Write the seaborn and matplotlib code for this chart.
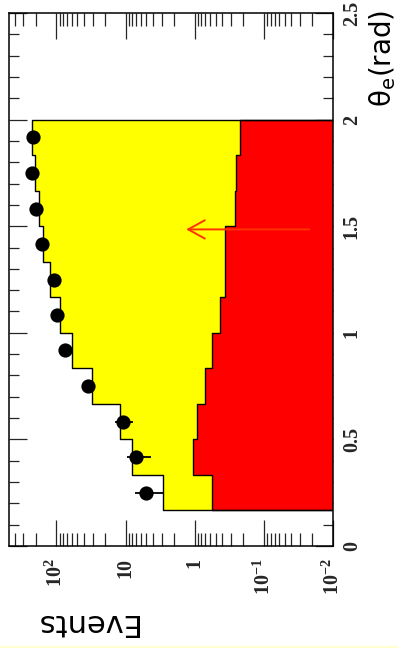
import numpy as np
import matplotlib
matplotlib.use('Agg')
import matplotlib.pyplot as plt
import seaborn as sns
from matplotlib.patches import Rectangle
from matplotlib.ticker import FixedLocator, FixedFormatter, MultipleLocator, NullFormatter

# theta_e bins (rad) and histogram contents
theta_edges = [0.167, 0.333, 0.5, 0.667, 0.833, 1.0, 1.167, 1.333, 1.5, 1.667, 1.833, 2.0]
theta_centers = [0.25, 0.417, 0.583, 0.75, 0.917, 1.083, 1.25, 1.417, 1.583, 1.75, 1.917]
total_mc = [2.9, 8.1, 11.9, 30.3, 59.0, 89.0, 124.0, 154.0, 181.0, 203.0, 227.0]
background = [0.57, 1.05, 0.93, 0.71, 0.57, 0.43, 0.37, 0.37, 0.26, 0.25, 0.224]
data_events = [5, 7, 11, 35, 75, 97, 110, 163, 199, 227, 221]

cut_theta = 1.485
arrow_start = 0.022
arrow_end = 1.33

event_ticks = [100, 10, 1, 0.1, 0.01]
event_labels = [r'$\mathregular{10^{2}}$', '10', '1',
                r'$\mathregular{10^{-1}}$', r'$\mathregular{10^{-2}}$']
theta_ticks = [0, 0.5, 1, 1.5, 2, 2.5]
theta_labels = ['0', '0.5', '1', '1.5', '2', '2.5']

sns.set_style('ticks')
plt.rcParams['font.family'] = ['DejaVu Sans']

W, H = 398, 648
fig = plt.figure(figsize=(W / 100, H / 100), dpi=100)
fig.patches.append(Rectangle((0, 0), 1, 2 / H, transform=fig.transFigure,
                             color='#ffffd0', zorder=0))

ax = fig.add_axes([9.3 / W, 1 - 546 / H, (333 - 9.3) / W, (546 - 13) / H])
ax.set_xscale('log')
xmin, xmax = 0.01, 480
ax.set_xlim(xmax, xmin)
ax.set_ylim(0, 2.5)

edges = np.array(theta_edges)
ys = np.column_stack([edges[:-1], edges[1:]]).ravel()


def draw_hist(vals, color):
    xs = np.repeat(vals, 2)
    ax.fill_betweenx(ys, xmin, xs, color=color, lw=0, zorder=2)
    ax.plot(np.r_[xmin, xs, xmin], np.r_[edges[0], ys, edges[-1]],
            color='black', lw=1, zorder=3)


draw_hist(total_mc, '#ffff00')
draw_hist(background, '#ff0000')

ax.errorbar(data_events, theta_centers, xerr=np.sqrt(data_events), fmt='none',
            ecolor='black', elinewidth=1.3, zorder=4)
sns.scatterplot(x=data_events, y=theta_centers, color='black', s=105,
                edgecolor='black', linewidth=0, zorder=5, ax=ax)

ax.annotate('', xy=(arrow_end, cut_theta), xytext=(arrow_start, cut_theta),
            arrowprops=dict(arrowstyle='->,head_length=1.0,head_width=0.55',
                            color='#ff3300', lw=1.4, mutation_scale=12,
                            shrinkA=0, shrinkB=0), zorder=6)

# axes styling, ROOT-like
for sp in ax.spines.values():
    sp.set_linewidth(1.1)
    sp.set_color('black')
    sp.set_zorder(7)

ax.xaxis.set_major_locator(FixedLocator(event_ticks))
ax.xaxis.set_major_formatter(FixedFormatter(event_labels))
minor = [m * 10.0 ** e for e in range(-2, 3) for m in range(2, 10)]
ax.xaxis.set_minor_locator(FixedLocator(minor))
ax.xaxis.set_minor_formatter(NullFormatter())
ax.tick_params(axis='x', which='major', direction='in', length=18.5, width=0.9,
               top=True, bottom=True, pad=8.6, labelsize=14.5, labelrotation=90)
ax.tick_params(axis='x', which='minor', direction='in', length=9.4, width=0.9,
               top=True, bottom=True)

ax.yaxis.set_major_locator(FixedLocator(theta_ticks))
ax.yaxis.set_major_formatter(FixedFormatter(theta_labels))
ax.yaxis.set_minor_locator(MultipleLocator(0.1))
ax.tick_params(axis='y', which='major', direction='in', length=13, width=0.9,
               left=True, right=True, labelleft=False, labelright=True,
               pad=6.3, labelsize=14.5, labelrotation=90)
ax.tick_params(axis='y', which='minor', direction='in', length=7, width=0.9,
               left=True, right=True)

for lab in ax.get_xticklabels() + ax.get_yticklabels():
    lab.set_fontfamily('Liberation Serif')
    lab.set_fontweight('bold')
for lab in ax.get_yticklabels():
    lab.set_verticalalignment('center')

ax.set_xlabel('')
ax.set_ylabel('')

fig.text(85 / W, 1 - 622 / H, 'Events', rotation=180, ha='center', va='center',
         fontsize=22, color='black')
fig.text(383 / W, 1 - 58 / H, r'θ$_\mathregular{e}$(rad)', rotation=90,
         ha='center', va='center', fontsize=20, color='black')

fig.savefig('out.png', dpi=100)
